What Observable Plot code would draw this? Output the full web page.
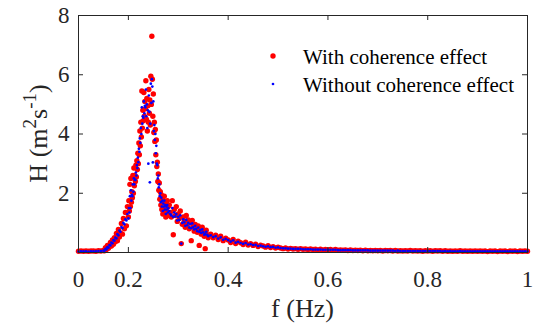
<!DOCTYPE html>
<html><head><meta charset="utf-8">
<script src="https://cdn.jsdelivr.net/npm/d3@7"></script>
<script src="https://cdn.jsdelivr.net/npm/@observablehq/plot@0.6"></script>
<style>body{margin:0;background:#fff} svg{display:block} svg text{font-family:'Liberation Serif','Times New Roman',serif !important}</style>
</head><body><div id="chart"></div>
<script>
// Frequency grid (Hz)
const freq = [
  0.1,0.105,0.11,0.115,0.12,0.125,0.13,0.135,0.14,0.145,0.15,
  0.152,0.154,0.156,0.158,0.16,0.162,0.164,0.166,0.168,0.17,0.172,0.174,0.176,0.178,0.18,0.182,0.184,0.186,0.188,0.19,0.192,0.194,0.196,0.198,
  0.2,0.201,0.202,0.203,0.204,0.205,0.206,0.207,0.208,0.209,
  0.21,0.211,0.212,0.213,0.214,0.215,0.216,0.217,0.218,0.219,
  0.22,0.221,0.222,0.223,0.224,0.225,0.226,0.227,0.228,0.229,
  0.23,0.231,0.232,0.233,0.234,0.235,0.236,0.237,0.238,0.239,
  0.24,0.241,0.242,0.243,0.244,0.245,0.246,0.247,0.248,0.249,
  0.25,0.251,0.252,0.253,0.254,0.255,0.256,0.257,0.258,0.259,
  0.26,0.261,0.262,0.263,0.264,0.265,0.266,0.267,0.268,0.269,
  0.27,0.271,0.272,0.273,0.274,0.275,0.276,0.277,0.278,0.279,
  0.28,
  0.282,0.284,0.286,0.288,0.29,0.292,0.294,0.296,0.298,0.3,
  0.302,0.304,0.306,0.308,0.31,0.312,0.314,0.316,0.318,0.32,
  0.322,0.324,0.326,0.328,0.33,0.332,0.334,0.336,0.338,0.34,
  0.342,0.344,0.346,0.348,0.35,0.352,0.354,0.356,0.358,0.36,
  0.365,0.37,0.375,0.38,0.385,0.39,0.395,0.4,0.405,0.41,0.415,0.42,0.425,0.43,
  0.435,0.44,0.445,0.45,0.455,0.46,0.465,0.47,0.475,0.48,0.485,0.49,0.495,0.5,
  0.505,0.51,0.515,0.52,0.525,0.53,0.535,0.54,0.545,0.55,
  0.555,0.56,0.565,0.57,0.575,0.58,0.585,0.59,0.595,0.6,
  0.605,0.61,0.615,0.62,0.625,0.63,0.635,0.64,0.645,0.65,
  0.655,0.66,0.665,0.67,0.675,0.68,0.685,0.69,0.695,0.7,
  0.705,0.71,0.715,0.72,0.725,0.73,0.735,0.74,0.745,0.75,
  0.755,0.76,0.765,0.77,0.775,0.78,0.785,0.79,0.795,0.8,
  0.805,0.81,0.815,0.82,0.825,0.83,0.835,0.84,0.845,0.85,
  0.855,0.86,0.865,0.87,0.875,0.88,0.885,0.89,0.895,0.9,
  0.905,0.91,0.915,0.92,0.925,0.93,0.935,0.94,0.945,0.95,
  0.955,0.96,0.965,0.97,0.975,0.98,0.985,0.99,0.995,1.0
];
// H (m^2 s^-1), with coherence effect
const withCoherence = [
  0.04,0.05,0.04,0.05,0.04,0.05,0.05,0.04,0.06,0.05,0.07,
  0.06,0.16,0.10,0.24,0.14,0.20,0.34,0.22,0.42,0.28,0.50,0.36,0.64,0.40,0.78,0.52,0.66,0.98,0.62,1.15,0.80,1.35,0.90,1.55,
  1.20,1.75,1.40,2.30,1.55,2.50,1.70,2.05,1.85,2.60,
  2.00,2.85,2.25,2.60,2.40,2.95,2.55,3.10,2.80,3.35,
  3.00,3.70,3.30,4.10,3.60,4.40,3.90,5.45,4.20,4.80,
  4.45,5.40,4.60,5.10,4.85,5.80,4.50,5.20,4.10,4.95,
  4.40,5.50,4.70,5.15,4.30,5.95,5.00,7.30,5.85,4.60,
  5.35,4.05,4.40,3.75,4.15,3.30,3.80,2.90,3.05,2.40,
  2.65,2.10,2.35,1.80,2.05,1.60,1.95,1.45,1.85,1.30,
  1.75,1.50,1.90,1.35,1.70,1.20,1.60,1.40,1.75,1.25,
  1.55,
  1.60,1.35,1.20,1.75,0.60,1.45,1.25,1.55,1.05,1.30,
  1.15,1.40,0.30,0.95,1.20,1.05,0.85,1.25,0.95,1.10,
  0.80,1.00,0.40,1.08,0.88,0.72,0.95,0.80,0.68,0.90,
  0.24,0.78,0.62,0.85,0.70,0.55,0.13,0.75,0.60,0.50,
  0.62,0.50,0.58,0.44,0.55,0.40,0.48,0.42,0.34,0.44,0.30,0.38,0.33,0.27,
  0.35,0.25,0.30,0.24,0.28,0.20,0.25,0.22,0.18,0.23,0.17,0.20,0.15,0.18,
  0.15,0.13,0.15,0.12,0.14,0.12,0.13,0.11,0.13,0.11,
  0.12,0.10,0.12,0.10,0.11,0.09,0.11,0.09,0.10,0.09,
  0.10,0.08,0.10,0.08,0.09,0.08,0.09,0.07,0.09,0.07,
  0.08,0.07,0.08,0.06,0.08,0.06,0.07,0.06,0.07,0.06,
  0.07,0.05,0.07,0.06,0.07,0.05,0.07,0.05,0.06,0.05,
  0.06,0.05,0.07,0.05,0.06,0.05,0.06,0.04,0.06,0.05,
  0.06,0.04,0.06,0.05,0.06,0.04,0.06,0.04,0.05,0.04,
  0.05,0.04,0.06,0.04,0.05,0.04,0.05,0.04,0.05,0.04,
  0.05,0.04,0.05,0.03,0.05,0.04,0.05,0.03,0.05,0.04,
  0.05,0.03,0.05,0.04,0.05,0.03,0.05,0.04,0.05,0.04
];
// H (m^2 s^-1), without coherence effect
const withoutCoherence = [
  0.03,0.04,0.04,0.04,0.03,0.04,0.04,0.04,0.05,0.05,0.06,
  0.06,0.12,0.10,0.18,0.16,0.25,0.24,0.33,0.31,0.42,0.40,0.50,0.48,0.62,0.58,0.74,0.70,0.86,0.82,1.00,0.95,1.12,1.08,1.30,
  1.15,1.50,1.35,1.90,1.50,2.10,1.75,1.95,1.90,2.30,
  2.05,2.50,2.30,2.45,2.45,2.70,2.60,2.95,2.85,3.20,
  3.05,3.50,3.40,3.85,3.70,4.20,4.00,4.90,4.35,4.60,
  4.55,5.10,4.70,4.95,4.90,5.50,4.60,5.00,4.20,4.80,
  3.00,5.30,4.75,2.37,4.35,5.70,5.05,5.85,5.60,3.04,
  5.10,4.10,4.30,3.80,4.00,3.35,3.60,3.00,2.95,2.50,
  2.60,2.20,2.30,1.90,2.00,1.70,1.85,1.55,1.75,1.40,
  1.65,1.55,1.75,1.45,1.60,1.30,1.55,1.45,1.60,1.35,
  1.50,
  1.40,1.30,1.25,1.50,1.20,1.35,1.22,1.30,1.08,1.20,
  1.10,1.25,0.30,1.00,1.12,1.02,0.90,1.10,0.92,1.00,
  0.84,0.96,0.82,0.98,0.86,0.78,0.90,0.80,0.72,0.84,
  0.70,0.76,0.66,0.78,0.68,0.60,0.62,0.70,0.60,0.55,
  0.58,0.52,0.55,0.47,0.51,0.43,0.46,0.42,0.37,0.41,0.33,0.36,0.32,0.29,
  0.32,0.27,0.28,0.25,0.26,0.22,0.23,0.21,0.19,0.21,0.18,0.19,0.16,0.17,
  0.15,0.14,0.14,0.13,0.13,0.12,0.12,0.12,0.12,0.11,
  0.11,0.11,0.11,0.10,0.10,0.10,0.10,0.09,0.09,0.09,
  0.09,0.09,0.09,0.08,0.08,0.08,0.08,0.08,0.08,0.07,
  0.07,0.07,0.07,0.07,0.07,0.07,0.06,0.06,0.06,0.06,
  0.06,0.06,0.06,0.06,0.06,0.06,0.05,0.06,0.05,0.05,
  0.05,0.05,0.05,0.05,0.05,0.05,0.05,0.05,0.05,0.05,
  0.05,0.05,0.05,0.05,0.05,0.04,0.05,0.04,0.05,0.04,
  0.04,0.04,0.05,0.04,0.04,0.04,0.04,0.04,0.04,0.04,
  0.04,0.04,0.04,0.04,0.04,0.04,0.04,0.04,0.04,0.04,
  0.04,0.04,0.04,0.04,0.04,0.04,0.04,0.04,0.04,0.04
];
const xTickValues = [0.1, 0.2, 0.4, 0.6, 0.8, 1];
const xTickLabels = ["0", "0.2", "0.4", "0.6", "0.8", "1"];
const yTickValues = [2, 4, 6, 8];
const seriesNames = ["With coherence effect", "Without coherence effect"];
const seriesColors = ["#ff0000", "#0000ff"];

const W = 536, H = 328, mL = 78, mR = 9, mT = 15, mB = 76;
const innerW = W - mL - mR, innerH = H - mT - mB;
const ink = "#262626";
const serif = "'Liberation Serif', 'Times New Roman', serif";

const redData = freq.map((f, i) => ({f, h: withCoherence[i]}));
const blueData = freq.map((f, i) => ({f, h: withoutCoherence[i]}));

const chart = Plot.plot({
  width: W, height: H,
  marginLeft: mL, marginRight: mR, marginTop: mT, marginBottom: mB,
  style: {fontFamily: serif, color: ink, background: "#fff", overflow: "visible"},
  x: {domain: [0.1, 1]},
  y: {domain: [0, 8]},
  marks: [
    Plot.dot(redData, {x: "f", y: "h", r: 2.7, fill: seriesColors[0]}),
    Plot.dot(blueData, {x: "f", y: "h", r: 1.35, fill: seriesColors[1]}),
    Plot.frame({stroke: ink, strokeWidth: 1}),
    Plot.ruleX(xTickValues, {stroke: ink, insetTop: innerH - 5}),
    Plot.ruleX(xTickValues, {stroke: ink, insetBottom: innerH - 5}),
    Plot.ruleY(yTickValues, {stroke: ink, insetRight: innerW - 5}),
    Plot.ruleY(yTickValues, {stroke: ink, insetLeft: innerW - 5}),
    Plot.axisX(xTickValues, {tickSize: 0, tickPadding: 18, fontSize: 23, fontFamily: serif, fill: ink,
      tickFormat: d => xTickLabels[xTickValues.indexOf(d)], label: null}),
    Plot.axisY(yTickValues, {tickSize: 0, tickPadding: 9, fontSize: 23, fontFamily: serif, fill: ink, label: null})
  ]
});
document.getElementById("chart").appendChild(chart);

const svg = d3.select(chart);
// x label
svg.append("text").attr("x", mL + innerW / 2).attr("y", 317)
  .attr("text-anchor", "middle").attr("font-family", serif).attr("font-size", 26).attr("fill", ink)
  .text("f (Hz)");
// y label with superscripts
const yl = svg.append("text").attr("transform", `translate(47,${mT + innerH / 2}) rotate(-90)`)
  .attr("text-anchor", "middle").attr("font-family", serif).attr("font-size", 26).attr("fill", ink);
yl.append("tspan").text("H (m");
yl.append("tspan").attr("dy", -11).attr("font-size", 19).text("2");
yl.append("tspan").attr("dy", 11).text("s");
yl.append("tspan").attr("dy", -11).attr("font-size", 19).text("-1");
yl.append("tspan").attr("dy", 11).text(")");
// legend
const legendRows = [{y: 56, base: 63.5, r: 2.7}, {y: 84, base: 91.5, r: 1.35}];
legendRows.forEach((row, i) => {
  svg.append("circle").attr("cx", 273).attr("cy", row.y).attr("r", row.r).attr("fill", seriesColors[i]);
  svg.append("text").attr("x", 303).attr("y", row.base).attr("text-anchor", "start")
    .attr("font-family", serif).attr("font-size", 21).attr("fill", "#000").text(seriesNames[i]);
});
</script></body></html>
